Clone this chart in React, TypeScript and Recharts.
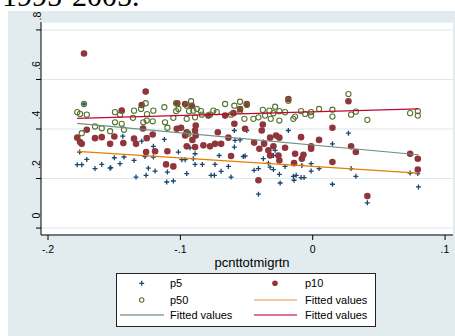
import React from 'react'
import { ScatterChart, Scatter, XAxis, YAxis, CartesianGrid } from 'recharts'

// colours (Stata s2color)
const NAVY = '#1a476f'
const MAROON = '#90353b'
const GREEN = '#55752f'
const ORANGE = '#e37e00'
const TEAL = '#6e8e84'
const CRANBERRY = '#c10534'
const BG = '#e2ecee'
const GRID = '#dde8ea'

const xTicks = [-0.2, -0.1, 0, 0.1]
const yTicks = [0, 0.2, 0.4, 0.6, 0.8]

// [pcnttotmigrtn, value]
const p5: [number, number][] = [
  [-0.1728, 0.501], [-0.1761, 0.307], [-0.1779, 0.256], [-0.1745, 0.256], [-0.1707, 0.277],
  [-0.1645, 0.24], [-0.1594, 0.257], [-0.1531, 0.242], [-0.1499, 0.284], [-0.1435, 0.371],
  [-0.1292, 0.351], [-0.1121, 0.358], [-0.1204, 0.33], [-0.1426, 0.287], [-0.1456, 0.26],
  [-0.135, 0.273], [-0.1267, 0.289], [-0.1204, 0.287], [-0.1015, 0.307], [-0.1526, 0.244],
  [-0.1242, 0.242], [-0.1191, 0.23], [-0.1335, 0.206], [-0.1259, 0.213], [-0.1098, 0.226],
  [-0.1103, 0.186], [-0.1053, 0.19], [-0.0989, 0.276], [-0.0964, 0.276], [-0.0902, 0.28],
  [-0.0889, 0.3], [-0.0927, 0.324], [-0.0889, 0.257], [-0.0834, 0.257], [-0.0738, 0.257],
  [-0.0707, 0.293], [-0.0692, 0.229], [-0.0637, 0.249], [-0.0768, 0.213], [-0.0743, 0.213],
  [-0.0617, 0.206], [-0.0952, 0.22], [-0.0592, 0.394], [-0.0592, 0.327], [-0.0587, 0.354],
  [-0.0549, 0.356], [-0.0524, 0.289], [-0.0498, 0.394], [-0.0184, 0.394], [-0.0373, 0.347],
  [-0.0511, 0.291], [-0.0373, 0.28], [-0.0297, 0.293], [-0.0284, 0.314], [-0.0443, 0.233],
  [-0.041, 0.24], [-0.0335, 0.262], [-0.0322, 0.246], [-0.0297, 0.236], [-0.0252, 0.273],
  [-0.0252, 0.217], [-0.0209, 0.249], [-0.0246, 0.182], [-0.0146, 0.209], [-0.0141, 0.193],
  [-0.0125, 0.213], [-0.0082, 0.253], [-0.0088, 0.204], [-0.0065, 0.204], [-0.041, 0.137],
  [0.027, 0.383], [0.0149, 0.34], [-0.0012, 0.26], [-0.0012, 0.23], [0.0048, 0.24],
  [0.029, 0.24], [0.0326, 0.209], [0.0149, 0.177], [0.0413, 0.102], [0.0736, 0.222],
  [0.0794, 0.22], [0.0799, 0.166],
]

const p10: [number, number][] = [
  [-0.1728, 0.705], [-0.1707, 0.397], [-0.1779, 0.365], [-0.1758, 0.347], [-0.1745, 0.34],
  [-0.1645, 0.363], [-0.1594, 0.367], [-0.1531, 0.34], [-0.1499, 0.37], [-0.1262, 0.551],
  [-0.1292, 0.497], [-0.1443, 0.474], [-0.1023, 0.504], [-0.1431, 0.343], [-0.135, 0.361],
  [-0.1335, 0.34], [-0.1254, 0.363], [-0.1209, 0.378], [-0.1259, 0.307], [-0.1191, 0.31],
  [-0.1098, 0.31], [-0.1108, 0.257], [-0.1053, 0.249], [-0.1027, 0.401], [-0.1282, 0.402],
  [-0.0964, 0.501], [-0.0914, 0.494], [-0.0788, 0.454], [-0.0662, 0.454], [-0.0599, 0.464],
  [-0.0592, 0.421], [-0.0995, 0.405], [-0.0952, 0.387], [-0.0884, 0.414], [-0.0889, 0.394],
  [-0.0884, 0.374], [-0.0964, 0.374], [-0.0909, 0.356], [-0.0952, 0.33], [-0.0889, 0.327],
  [-0.0826, 0.334], [-0.0776, 0.33], [-0.0738, 0.34], [-0.0717, 0.387], [-0.0692, 0.34],
  [-0.0637, 0.365], [-0.0617, 0.291], [-0.0549, 0.481], [-0.0184, 0.521], [-0.0498, 0.501],
  [-0.0511, 0.401], [-0.0377, 0.418], [-0.0385, 0.394], [-0.0443, 0.345], [-0.0403, 0.32],
  [-0.0367, 0.34], [-0.0322, 0.365], [-0.0277, 0.374], [-0.0252, 0.365], [-0.0297, 0.33],
  [-0.0335, 0.314], [-0.0322, 0.293], [-0.0259, 0.293], [-0.0252, 0.273], [-0.0209, 0.324],
  [-0.0133, 0.3], [-0.0141, 0.262], [-0.0088, 0.367], [-0.007, 0.296], [-0.0082, 0.28],
  [-0.041, 0.193], [0.027, 0.512], [0.0149, 0.405], [0.0048, 0.356], [-0.0012, 0.33],
  [-0.0012, 0.32], [0.0149, 0.267], [0.029, 0.33], [0.0326, 0.307], [0.0413, 0.129],
  [0.0736, 0.3], [0.0794, 0.28], [0.0794, 0.236],
]

const p50: [number, number][] = [
  [-0.1728, 0.501], [-0.1779, 0.468], [-0.1758, 0.461], [-0.1707, 0.458], [-0.1645, 0.41],
  [-0.1594, 0.403], [-0.1531, 0.391], [-0.1745, 0.383], [-0.1494, 0.468], [-0.1494, 0.427],
  [-0.1456, 0.458], [-0.135, 0.474], [-0.1297, 0.481], [-0.1262, 0.504], [-0.1252, 0.46],
  [-0.1204, 0.474], [-0.1121, 0.488], [-0.1032, 0.504], [-0.1032, 0.472], [-0.1443, 0.421],
  [-0.1426, 0.397], [-0.1358, 0.445], [-0.128, 0.427], [-0.1254, 0.434], [-0.1209, 0.431],
  [-0.1116, 0.427], [-0.1098, 0.405], [-0.1053, 0.445], [-0.1015, 0.481], [-0.0952, 0.494],
  [-0.0919, 0.512], [-0.0934, 0.472], [-0.0902, 0.474], [-0.0876, 0.481], [-0.0844, 0.472],
  [-0.0952, 0.441], [-0.0889, 0.447], [-0.0838, 0.458], [-0.0776, 0.458], [-0.0751, 0.474],
  [-0.0725, 0.468], [-0.0662, 0.501], [-0.0592, 0.494], [-0.0549, 0.51], [-0.0549, 0.474],
  [-0.0516, 0.441], [-0.0617, 0.458], [-0.094, 0.381], [-0.0498, 0.497], [-0.0448, 0.441],
  [-0.041, 0.447], [-0.0377, 0.477], [-0.036, 0.454], [-0.0327, 0.474], [-0.0317, 0.441],
  [-0.0284, 0.49], [-0.0297, 0.464], [-0.0252, 0.434], [-0.0252, 0.472], [-0.0209, 0.468],
  [-0.0146, 0.441], [-0.0133, 0.45], [-0.0088, 0.472], [-0.0184, 0.514], [-0.0012, 0.468],
  [-0.0012, 0.454], [0.0048, 0.481], [0.0149, 0.478], [0.0149, 0.45], [0.027, 0.541],
  [0.029, 0.458], [0.0326, 0.47], [0.0413, 0.437], [-0.0057, 0.461], [0.0736, 0.464],
  [0.0794, 0.472], [0.0794, 0.454],
]

// linear fits, values at the ends of the x range
const fitP5: [number, number][] = [[-0.1779, 0.31], [0.0799, 0.222]]
const fitP10: [number, number][] = [[-0.1779, 0.423], [0.0799, 0.296]]
const fitP50: [number, number][] = [[-0.1779, 0.443], [0.0799, 0.481]]

const toPts = (arr: [number, number][]) => arr.map(([x, y]) => ({ x, y }))

const fmt = (v: number) => (v === 0 ? '0' : String(v).replace('0.', '.'))

const PlusShape = (props: any) => {
  const { cx, cy } = props
  return <path d={`M${cx - 2.5},${cy}h5M${cx},${cy - 2.5}v5`} stroke={NAVY} strokeWidth={1.3} fill="none" />
}
const DotShape = (props: any) => <circle cx={props.cx} cy={props.cy} r={3.3} fill={MAROON} />
const RingShape = (props: any) => (
  <circle cx={props.cx} cy={props.cy} r={2.6} fill="none" stroke={GREEN} strokeWidth={1.1} />
)
const NoShape = () => <g />

const YTick = (props: any) => {
  const { y, payload } = props
  const tx = 32.5
  const ty = y - 9.5
  return (
    <text x={tx} y={ty} transform={`rotate(-90, ${tx}, ${ty})`} textAnchor="start" fontSize={10.5} fill="#000">
      {fmt(payload.value)}
    </text>
  )
}

const XTick = (props: any) => (
  <text x={props.x} y={241.5} textAnchor="middle" fontSize={10.5} fill="#000">
    {fmt(props.payload.value)}
  </text>
)

function LegendBox() {
  const r1 = 10.3, r2 = 27, r3 = 42
  return (
    <svg width={260} height={54} style={{ position: 'absolute', left: 116, top: 273 }}>
      <rect x={0.5} y={0.5} width={259} height={53} fill="#fff" stroke="#222" />
      <path d={`M${25.7 - 2.5},${r1}h5M25.7,${r1 - 2.5}v5`} stroke={NAVY} strokeWidth={1.3} />
      <text x={54} y={r1 + 4} fontSize={11}>p5</text>
      <circle cx={159} cy={r1} r={2.8} fill={MAROON} />
      <text x={189} y={r1 + 4} fontSize={11}>p10</text>
      <circle cx={25.7} cy={r2} r={2.2} fill="none" stroke={GREEN} strokeWidth={1.1} />
      <text x={54} y={r2 + 4} fontSize={11}>p50</text>
      <line x1={138} x2={181} y1={r2} y2={r2} stroke={ORANGE} strokeWidth={1.2} opacity={0.8} />
      <text x={189} y={r2 + 4} fontSize={11}>Fitted values</text>
      <line x1={4} x2={48} y1={r3} y2={r3} stroke={TEAL} strokeWidth={1.8} opacity={0.6} />
      <text x={54} y={r3 + 4} fontSize={11}>Fitted values</text>
      <line x1={138} x2={181} y1={r3} y2={r3} stroke={CRANBERRY} strokeWidth={1.8} opacity={0.55} />
      <text x={189} y={r3 + 4} fontSize={11}>Fitted values</text>
    </svg>
  )
}

export default function App() {
  return (
    <div
      style={{
        position: 'fixed', left: 0, top: 0, width: 455, height: 336, overflow: 'hidden',
        background: '#fff', fontFamily: '"Liberation Sans", Arial, sans-serif',
      }}
    >
      <div
        style={{
          position: 'absolute', left: 2, top: -19, fontSize: 30, lineHeight: '30px',
          fontFamily: '"Liberation Serif", "Times New Roman", serif', color: '#000', whiteSpace: 'nowrap',
        }}
      >
        1995-2005.
      </div>
      <div style={{ position: 'absolute', left: 8, top: 11, width: 447, height: 325, background: BG }}>
        <ScatterChart width={447} height={325} margin={{ top: 11, right: 2, bottom: 0, left: 0 }}>
          <CartesianGrid vertical={false} stroke={GRID} fill="#fff" fillOpacity={1} />
          <XAxis
            type="number"
            dataKey="x"
            domain={[-0.2053, 0.106]}
            ticks={xTicks}
            allowDataOverflow
            height={101}
            tickSize={5}
            axisLine={{ stroke: '#000' }}
            tickLine={{ stroke: '#000' }}
            tick={<XTick />}
            label={{
              value: 'pcnttotmigrtn',
              content: () => (
                <text x={244} y={255.7} textAnchor="middle" fontSize={13} fill="#000">
                  pcnttotmigrtn
                </text>
              ),
            }}
          />
          <YAxis
            type="number"
            dataKey="y"
            domain={[-0.028, 0.832]}
            ticks={yTicks}
            allowDataOverflow
            width={33}
            tickSize={5}
            axisLine={{ stroke: '#000' }}
            tickLine={{ stroke: '#000' }}
            tick={<YTick />}
          />
          <Scatter name="p5" data={toPts(p5)} shape={PlusShape} isAnimationActive={false} />
          <Scatter name="p10" data={toPts(p10)} shape={DotShape} isAnimationActive={false} />
          <Scatter name="p50" data={toPts(p50)} shape={RingShape} isAnimationActive={false} />
          <Scatter data={toPts(fitP5)} shape={NoShape} line={{ stroke: ORANGE, strokeWidth: 1.2 }} isAnimationActive={false} />
          <Scatter data={toPts(fitP10)} shape={NoShape} line={{ stroke: TEAL, strokeWidth: 1.2 }} isAnimationActive={false} />
          <Scatter data={toPts(fitP50)} shape={NoShape} line={{ stroke: CRANBERRY, strokeWidth: 1.2 }} isAnimationActive={false} />
        </ScatterChart>
      </div>
      <LegendBox />
    </div>
  )
}
